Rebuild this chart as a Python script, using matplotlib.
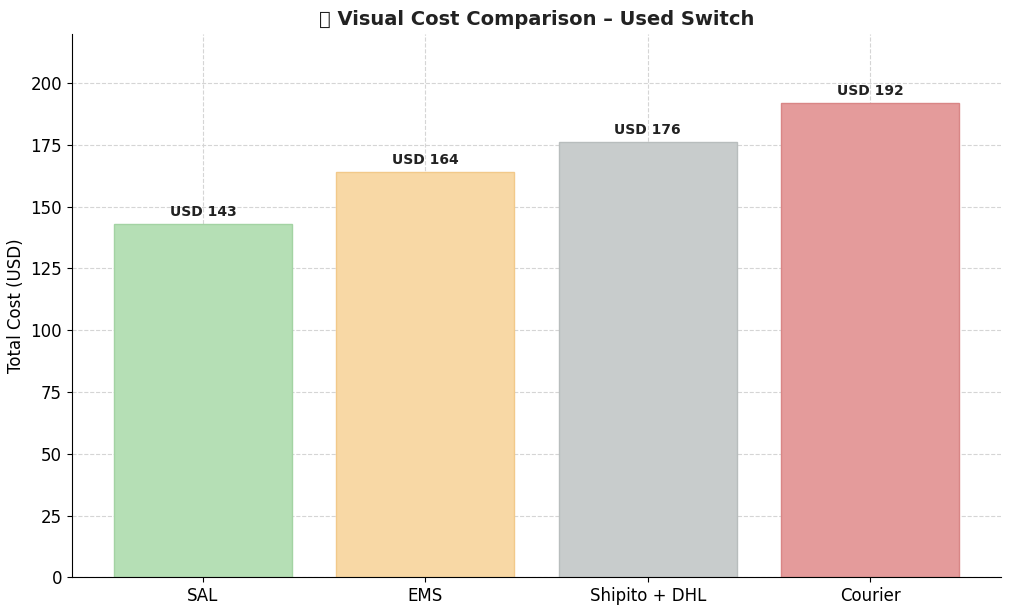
import matplotlib
matplotlib.use("Agg")
import matplotlib.pyplot as plt

categories = ["SAL", "EMS", "Shipito + DHL", "Courier"]
costs = [143, 164, 176, 192]
colors = ["#b5dfb5", "#f8d8a5", "#c8cccc", "#e49b9b"]
edges = ["#a3d3a3", "#f2c98a", "#b8bdbd", "#d98686"]

fig, ax = plt.subplots(figsize=(10.24, 6.11), dpi=100)
bars = ax.bar(categories, costs, color=colors, edgecolor=edges, width=0.8, zorder=2)
for b, v in zip(bars, costs):
    ax.text(b.get_x() + b.get_width() / 2, v + 2, f"USD {v}", ha="center", va="bottom",
            fontsize=10, fontweight="bold", color="#222222", zorder=3)
ax.set_ylim(0, 220)
ax.set_ylabel("Total Cost (USD)", fontsize=12)
ax.set_title("\U0001F4E6 Visual Cost Comparison \u2013 Used Switch", fontsize=14,
             fontweight="bold", color="#222222")
ax.grid(True, linestyle="--", color="#d5d5d5", linewidth=0.8, zorder=3)
ax.tick_params(labelsize=12)
ax.spines["top"].set_visible(False)
ax.spines["right"].set_visible(False)
fig.subplots_adjust(left=0.07, right=0.978, top=0.945, bottom=0.055)
fig.savefig("out.png")
